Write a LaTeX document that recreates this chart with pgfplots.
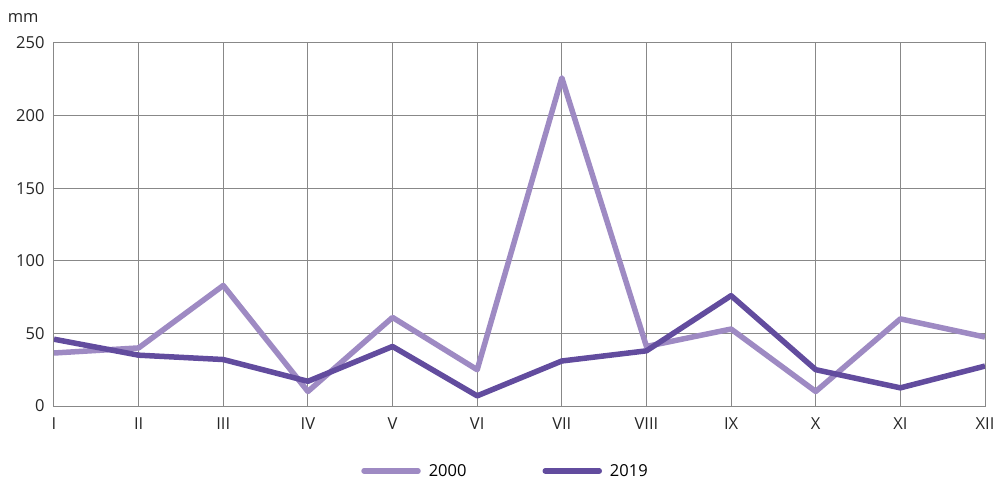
\documentclass[border=0pt]{standalone}
\usepackage{fontspec}
\setmainfont{Open Sans}
\usepackage{pgfplots}
\pgfplotsset{compat=1.18}
\definecolor{lightp}{HTML}{9E8AC3}
\definecolor{darkp}{HTML}{624C9E}
\definecolor{gridg}{HTML}{888888}
\begin{document}
\begin{tikzpicture}
\begin{axis}[
  name=ax,
  scale only axis,
  width=931bp, height=363bp,
  xmin=0, xmax=11, ymin=0, ymax=250,
  xtick={0,...,11},
  xticklabels={I,II,III,IV,V,VI,VII,VIII,IX,X,XI,XII},
  ytick={0,50,100,150,200,250},
  grid=major,
  major grid style={gridg, line width=1bp},
  axis line style={gridg, line width=1bp},
  tick style={draw=none},
  /pgf/number format/assume math mode=true,
  ticklabel style={font=\fontsize{16.5bp}{19bp}\selectfont, text=black!85},
  yticklabel style={xshift=-6bp},
  xticklabel style={yshift=-8bp},
  legend style={at={(0.5,0)}, xshift=-14bp, yshift=-54bp, anchor=north, draw=none, fill=none,
    legend columns=2, font=\fontsize{16.5bp}{19bp}\selectfont,
    /tikz/every odd column/.append style={column sep=6bp},
    /tikz/every even column/.append style={column sep=74bp}},
  legend image code/.code={\draw[#1, line cap=round] (0bp,0bp) -- (54bp,0bp);},
]
\addplot[lightp, line width=5.5bp, line join=round] coordinates {
(0,36.5) (1,40) (2,83) (3,10) (4,61) (5,25) (6,226) (7,41) (8,53) (9,10) (10,60) (11,47.5)};
\addlegendentry{2000}
\addplot[darkp, line width=5.5bp, line join=round] coordinates {
(0,46) (1,35) (2,32) (3,17) (4,41) (5,7) (6,31) (7,38) (8,76) (9,25) (10,12.5) (11,27.5)};
\addlegendentry{2019}
\end{axis}
\node[anchor=east, font=\fontsize{16.5bp}{19bp}\selectfont, text=black!85] at ([xshift=-12bp,yshift=25bp]ax.north west) {mm};
\pgfresetboundingbox
\path (ax.south west) ++(-54bp,-76bp) rectangle ++(995bp,482bp);
\end{tikzpicture}
\end{document}
